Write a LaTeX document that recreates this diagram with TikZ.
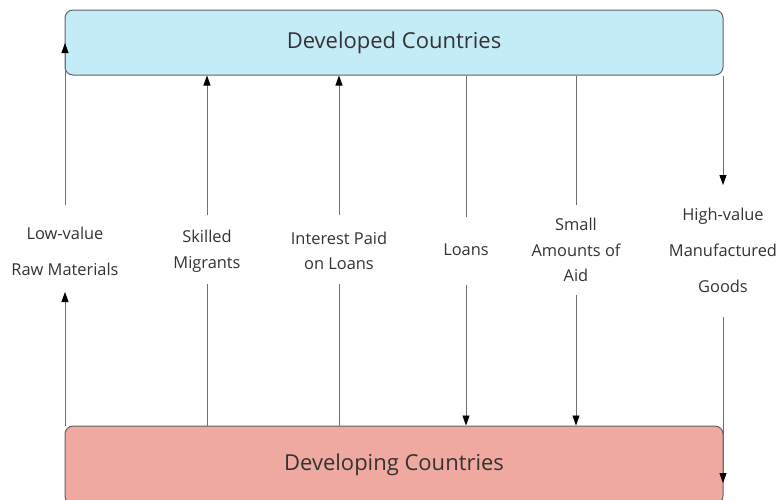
\documentclass[tikz,border=0pt]{standalone}
\usepackage{fontspec}
\setmainfont{Open Sans}
\usetikzlibrary{arrows.meta}
\definecolor{topfill}{HTML}{C4ECF6}
\definecolor{botfill}{HTML}{F0A9A0}
\definecolor{boxline}{HTML}{5F6366}
\definecolor{lineg}{HTML}{707070}
\definecolor{textcol}{HTML}{333333}
\begin{document}
\begin{tikzpicture}[x=1pt,y=-1pt,
  box/.style={draw=boxline, line width=1pt, rounded corners=8pt, minimum width=658pt, inner sep=0pt, text=textcol, font=\fontsize{22}{26}\selectfont},
  lbl/.style={align=center, text=textcol, inner sep=0pt},
  tight/.style={font=\fontsize{16.4}{25.5}\selectfont},
  loose/.style={font=\fontsize{16.4}{36}\selectfont},
  conn/.style={draw=lineg, line width=0.9pt},
  arr/.style={conn, -{Triangle[length=10pt,width=7pt,color=black]}}]
\useasboundingbox (0,0) rectangle (777,499);
% boxes
\node[box, fill=topfill, minimum height=65pt] (dev) at (394,42.5) {Developed Countries};
\node[box, fill=botfill, minimum height=78pt] (dvg) at (394,465) {Developing Countries};
% labels
\node[lbl, loose] (raw) at (65,251) {Low-value\\Raw Materials};
\node[lbl, tight] (mig) at (207,251) {Skilled\\Migrants};
\node[lbl, tight] (int) at (339,251) {Interest Paid\\on Loans};
\node[lbl, tight] (loa) at (466,250) {Loans};
\node[lbl, tight] (aid) at (576,250) {Small\\Amounts of\\Aid};
\node[lbl, loose] (goo) at (723,250) {High-value\\Manufactured\\Goods};
% connector ends
\coordinate (r1) at (65,292); \coordinate (r2) at (65,205); \coordinate (r3) at (65,43);
\coordinate (m1) at (207,284); \coordinate (m2) at (207,215);
\coordinate (i1) at (339,284); \coordinate (i2) at (339,215);
\coordinate (l1) at (466,217); \coordinate (l2) at (466,285);
\coordinate (a1) at (576,205); \coordinate (a2) at (576,295);
\coordinate (g1) at (723,185); \coordinate (g2) at (723,317); \coordinate (g3) at (723,483);
% connectors
\draw[arr] (dvg.north -| raw) -- (r1);
\draw[arr] (r2) -- (r3);
\draw[conn] (dvg.north -| mig) -- (m1);
\draw[arr] (m2) -- (dev.south -| mig);
\draw[conn] (dvg.north -| int) -- (i1);
\draw[arr] (i2) -- (dev.south -| int);
\draw[conn] (dev.south -| loa) -- (l1);
\draw[arr] (l2) -- (dvg.north -| loa);
\draw[conn] (dev.south -| aid) -- (a1);
\draw[arr] (a2) -- (dvg.north -| aid);
\draw[arr] (dev.south -| goo) -- (g1);
\draw[arr] (g2) -- (g3);
\end{tikzpicture}
\end{document}
